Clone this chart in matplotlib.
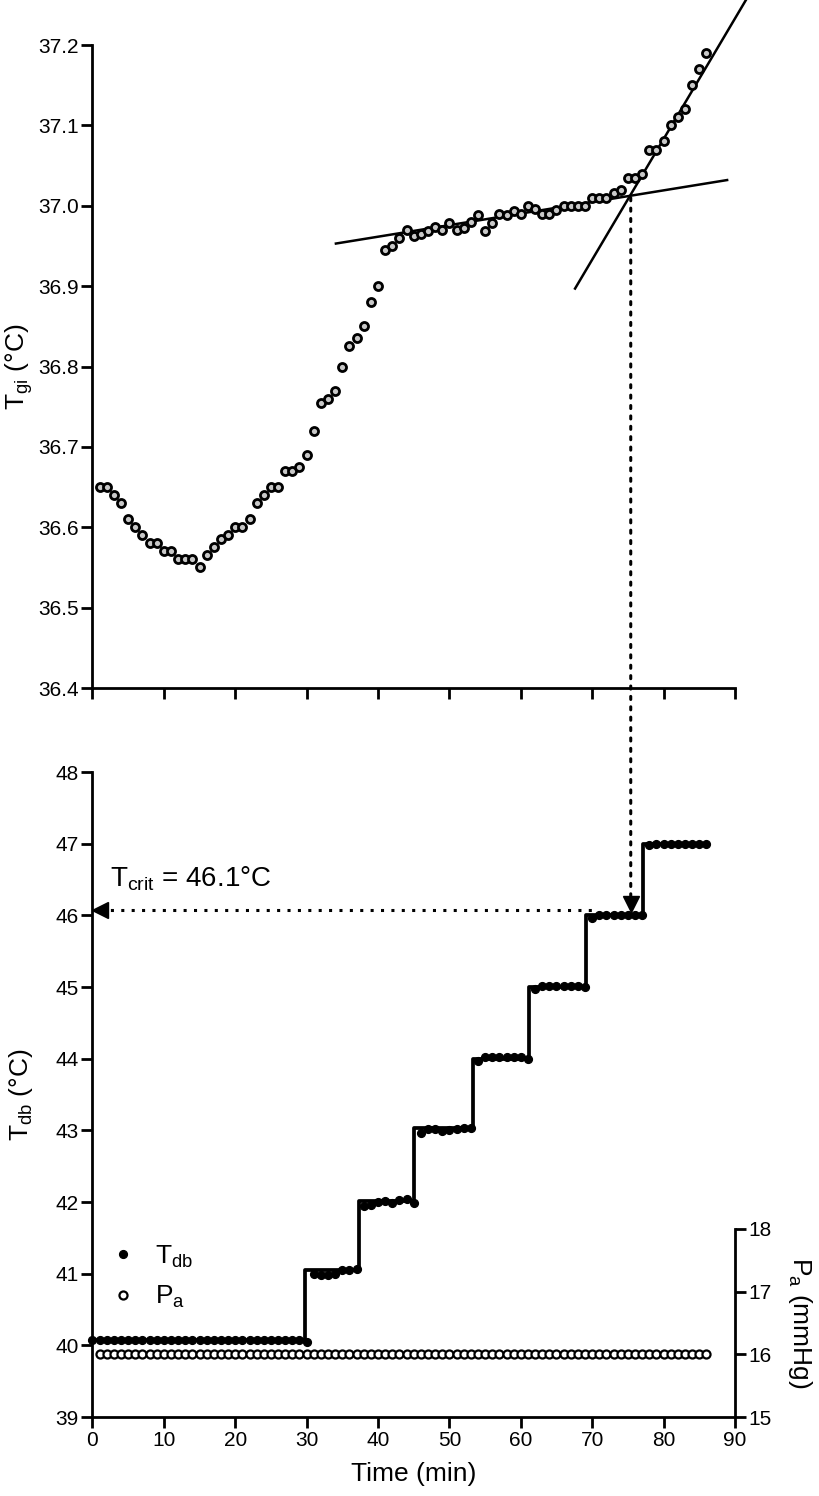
"""Core temperature vs time (top) and chamber conditions (bottom), Tcrit read-off."""
import matplotlib
matplotlib.use("Agg")
import matplotlib.pyplot as plt
from matplotlib.patches import ConnectionPatch

plt.rcParams["font.family"] = ["Liberation Sans", "DejaVu Sans"]
plt.rcParams["mathtext.fontset"] = "custom"
plt.rcParams["mathtext.rm"] = "Liberation Sans"
plt.rcParams["mathtext.it"] = "Liberation Sans:italic"
plt.rcParams["mathtext.default"] = "regular"

# gastrointestinal temperature, one reading per minute
tgi_time = list(range(1, 87))
tgi = [
    36.65, 36.65, 36.64, 36.63, 36.61, 36.60, 36.59, 36.58, 36.58, 36.57,
    36.57, 36.56, 36.56, 36.56, 36.55, 36.565, 36.575, 36.585, 36.59, 36.60,
    36.60, 36.61, 36.63, 36.64, 36.65, 36.65, 36.67, 36.67, 36.675, 36.69,
    36.72, 36.755, 36.76, 36.77, 36.80, 36.825, 36.835, 36.85, 36.88, 36.90,
    36.945, 36.95, 36.96, 36.97, 36.963, 36.965, 36.968, 36.973, 36.97, 36.978,
    36.97, 36.972, 36.98, 36.989, 36.969, 36.979, 36.99, 36.989, 36.993, 36.99,
    37.00, 36.996, 36.99, 36.99, 36.995, 37.00, 37.00, 37.00, 37.00, 37.01,
    37.01, 37.01, 37.016, 37.02, 37.035, 37.035, 37.04, 37.07, 37.07, 37.08,
    37.10, 37.11, 37.12, 37.15, 37.17, 37.19,
]

# two regression lines through the Tgi data
fit1_x = [34.1, 88.9]
fit1_y = [36.953, 37.032]
fit2_x = [67.6, 91.6]
fit2_y = [36.897, 37.257]

# dry-bulb temperature
tdb_time = list(range(0, 87))
tdb = (
    [40.08] * 30 + [40.05]
    + [40.99, 40.98, 40.98, 40.99, 41.05, 41.05, 41.06]
    + [41.94, 41.96, 42.00, 42.02, 41.99, 42.03, 42.04, 41.99]
    + [42.97, 43.02, 43.02, 42.99, 43.00, 43.02, 43.03, 43.03]
    + [43.97, 44.03, 44.03, 44.02, 44.03, 44.03, 44.02, 43.99]
    + [44.97, 45.01, 45.02, 45.02, 45.01, 45.02, 45.02, 45.00]
    + [45.96, 46.00, 46.01, 46.01, 46.00, 46.01, 46.00, 46.00]
    + [46.98, 47.00, 47.00, 47.00, 47.00, 47.00, 47.00, 47.00, 47.00]
)

# chamber set-point staircase
step_time = [0, 29.8, 37.3, 45.0, 53.3, 61.1, 69.1, 77.1, 86.0]
step_level = [40.08, 41.05, 42.02, 43.03, 44.00, 45.00, 46.00, 47.00, 47.00]

# ambient vapour pressure
pa_time = list(range(1, 87))
pa = [16.0] * 86

t_cross = 75.4
tgi_cross = 37.01
t_crit = 46.07
h_line_end = 70.8

TICK_FS = 15
LABEL_FS = 19


def style_axis(ax):
    for side in ("left", "bottom", "right"):
        ax.spines[side].set_linewidth(2.0)
    ax.tick_params(direction="out", length=8, width=2.0, labelsize=TICK_FS, pad=2)


def main():
    fig = plt.figure(figsize=(8.19, 14.96), dpi=100)
    ax1 = fig.add_axes([0.1129, 0.5401, 0.7845, 0.4298])
    ax2 = fig.add_axes([0.1129, 0.0528, 0.7845, 0.4311])

    # --- top panel
    ax1.plot(fit1_x, fit1_y, color="black", lw=1.8, zorder=2)
    ax1.plot(fit2_x, fit2_y, color="black", lw=1.8, zorder=2, clip_on=False)
    ax1.plot(tgi_time, tgi, "o", ms=5.8, mfc="#c8c8c8", mec="black", mew=2.0,
             zorder=3, clip_on=False)
    ax1.set_xlim(0, 90)
    ax1.set_ylim(36.4, 37.2)
    ax1.set_xticks(range(0, 91, 10))
    ax1.set_xticklabels([])
    ax1.set_yticks([36.4 + 0.1 * i for i in range(9)])
    ax1.set_yticklabels([f"{36.4 + 0.1 * i:.1f}" for i in range(9)])
    ax1.spines["top"].set_visible(False)
    ax1.spines["right"].set_visible(False)
    style_axis(ax1)
    ax1.set_ylabel("T$_{gi}$ (°C)", fontsize=LABEL_FS)
    ax1.yaxis.set_label_coords(-0.089, 0.5)

    # --- bottom panel
    ax2.step(step_time, step_level, where="post", color="black", lw=2.7, zorder=2)
    (h_tdb,) = ax2.plot(tdb_time, tdb, "o", ms=5.6, color="black", zorder=3,
                        clip_on=False, label="T$_{db}$")
    ax2.set_xlim(0, 90)
    ax2.set_ylim(39, 48)
    ax2.set_xticks(range(0, 91, 10))
    ax2.set_yticks(range(39, 49))
    ax2.spines["top"].set_visible(False)
    ax2.spines["right"].set_visible(False)
    style_axis(ax2)
    ax2.set_ylabel("T$_{db}$ (°C)", fontsize=LABEL_FS)
    ax2.yaxis.set_label_coords(-0.089, 0.5)
    ax2.set_xlabel("Time (min)", fontsize=LABEL_FS, labelpad=9)

    ax3 = ax2.twinx()
    (h_pa,) = ax3.plot(pa_time, pa, "o", ms=5.8, mfc="white", mec="black", mew=1.6,
                       zorder=3, label="P$_a$")
    ax3.set_ylim(15, 15 + 645 / 62.7)
    ax3.set_yticks([15, 16, 17, 18])
    for side in ("left", "top", "bottom"):
        ax3.spines[side].set_visible(False)
    ax3.spines["right"].set_bounds(15, 18)
    style_axis(ax3)
    ax3.set_ylabel("P$_a$ (mmHg)", fontsize=LABEL_FS, rotation=270, va="center")
    ax3.yaxis.set_label_coords(1.101, 0.146)

    ax2.legend(handles=[h_tdb, h_pa], loc="upper left", bbox_to_anchor=(0.027, 0.269),
               frameon=False, fontsize=LABEL_FS, handlelength=1.0, handletextpad=0.7,
               labelspacing=0.55, borderpad=0, borderaxespad=0, numpoints=1)

    # --- Tcrit read-off
    dots = (0, (1, 2.4))
    con = ConnectionPatch(xyA=(t_cross, tgi_cross), coordsA=ax1.transData,
                          xyB=(t_cross, t_crit + 0.09), coordsB=ax2.transData,
                          linestyle=dots, linewidth=2.2, color="black",
                          shrinkA=0, shrinkB=0)
    fig.add_artist(con)
    ax2.plot([t_cross], [t_crit + 0.09], marker="v", ms=11, color="black", zorder=4)
    ax2.plot([1.0, h_line_end], [t_crit, t_crit], linestyle=dots, lw=2.2, color="black")
    ax2.plot([1.1], [t_crit], marker="<", ms=11, color="black", zorder=4)
    ax2.text(2.45, 46.40, "T$_{crit}$ = 46.1°C", fontsize=20, va="baseline", ha="left")

    fig.savefig("out.png", dpi=100)
    plt.close(fig)


if __name__ == "__main__":
    main()
